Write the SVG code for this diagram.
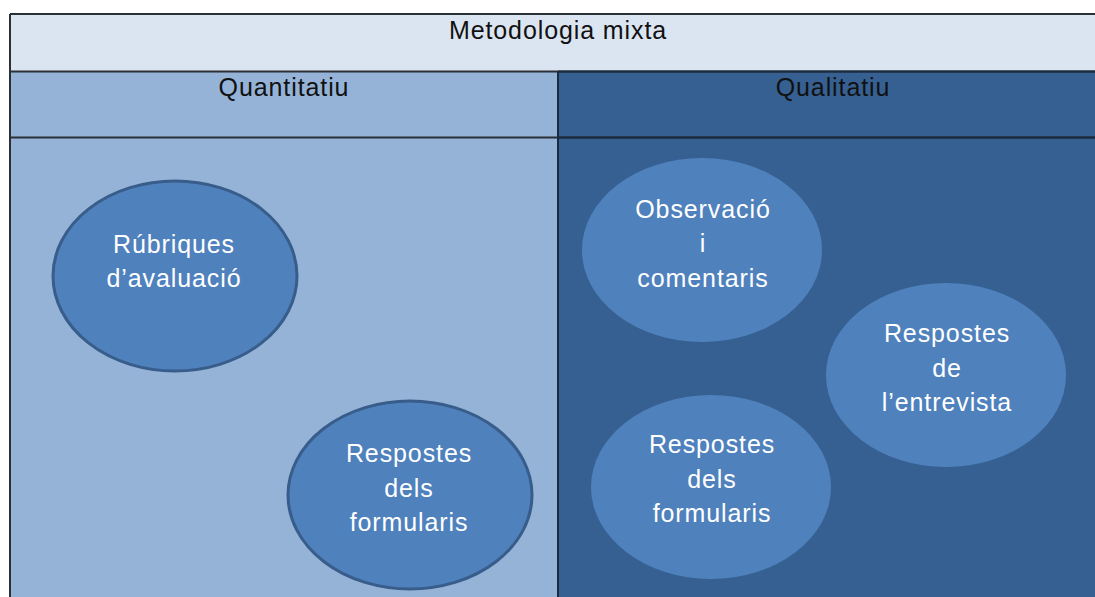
<svg xmlns="http://www.w3.org/2000/svg" width="1095" height="597" viewBox="0 0 1095 597">
<style>
.t{font-family:"Liberation Sans",Arial,sans-serif;font-size:25px;letter-spacing:0.9px;text-anchor:middle}
.dk{fill:#111111}
.wt{fill:#ffffff}
.e1{fill:#4f81bd;stroke:#385d8a;stroke-width:3}
.e2{fill:#4f81bd;stroke:none}
.ln{stroke:#2b2f36;stroke-width:2;fill:none}
</style>
<rect width="1095" height="597" fill="#ffffff"/>
<g id="header">
<rect x="10" y="14" width="1090" height="58" fill="#dbe5f1"/>
<text class="t dk" x="558" y="39">Metodologia mixta</text>
</g>
<g id="quantitatiu">
<rect x="10" y="72" width="548" height="530" fill="#95b3d7"/>
<text class="t dk" x="284" y="96">Quantitatiu</text>
</g>
<g id="qualitatiu">
<rect x="558" y="72" width="540" height="530" fill="#366092"/>
<text class="t dk" x="833" y="96">Qualitatiu</text>
</g>
<g id="grid">
<path class="ln" d="M10 14H1100M10 14V600M10 71.5H1100M10 137.5H1100M558 72V600"/>
<path d="M558 72V600M558 137.5H1100M558 71.5H1100" stroke="#1a2a40" stroke-width="2" fill="none"/>
</g>
<g id="rubriques">
<ellipse class="e1" cx="175" cy="276" rx="122" ry="95"/>
<text class="t wt" x="174" y="253">Rúbriques</text>
<text class="t wt" x="174" y="287">d’avaluació</text>
</g>
<g id="formularis-quant">
<ellipse class="e1" cx="410" cy="495" rx="122" ry="94"/>
<text class="t wt" x="409" y="462">Respostes</text>
<text class="t wt" x="409" y="497">dels</text>
<text class="t wt" x="409" y="531">formularis</text>
</g>
<g id="observacio">
<ellipse class="e2" cx="702" cy="250" rx="120" ry="92"/>
<text class="t wt" x="703" y="218">Observació</text>
<text class="t wt" x="703" y="252">i</text>
<text class="t wt" x="703" y="287">comentaris</text>
</g>
<g id="entrevista">
<ellipse class="e2" cx="946" cy="375" rx="120" ry="92"/>
<text class="t wt" x="947" y="342">Respostes</text>
<text class="t wt" x="947" y="377">de</text>
<text class="t wt" x="947" y="411">l’entrevista</text>
</g>
<g id="formularis-qual">
<ellipse class="e2" cx="711" cy="487" rx="120" ry="92"/>
<text class="t wt" x="712" y="453">Respostes</text>
<text class="t wt" x="712" y="488">dels</text>
<text class="t wt" x="712" y="522">formularis</text>
</g>
<g id="connectors"></g>
</svg>
